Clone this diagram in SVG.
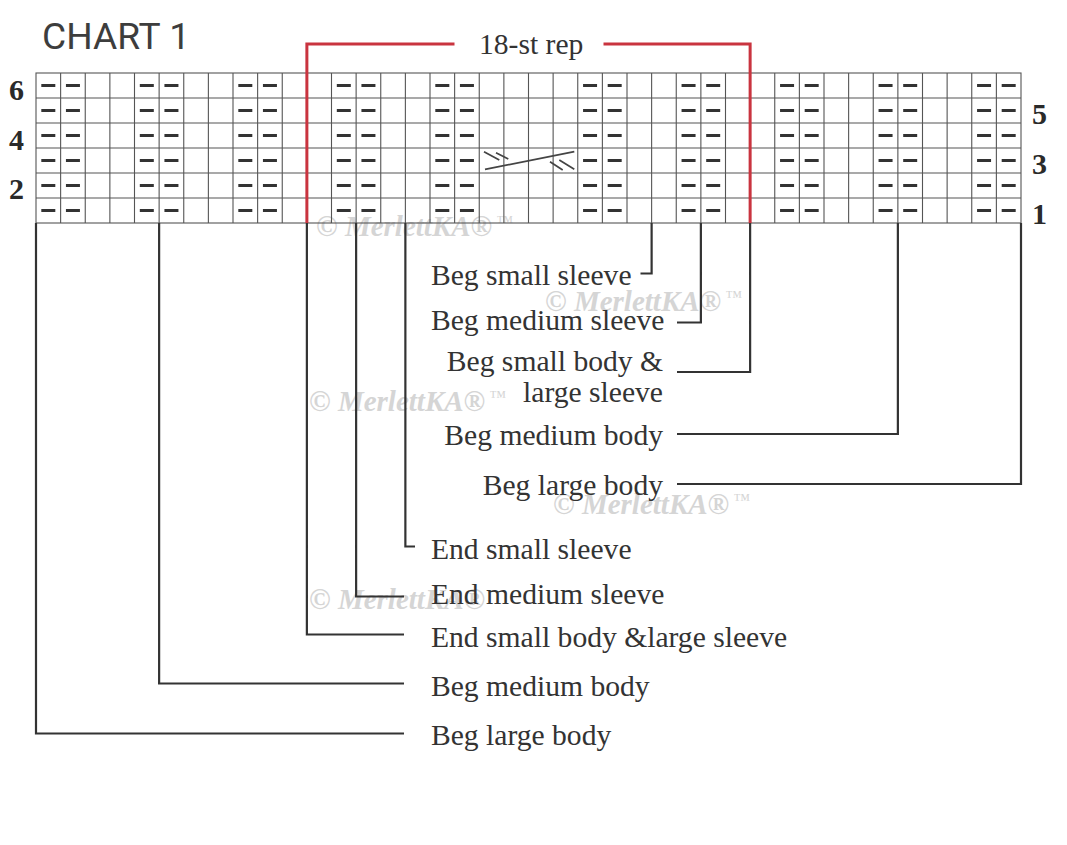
<svg xmlns="http://www.w3.org/2000/svg" width="1067" height="845" viewBox="0 0 1067 845">
<style>
.wm{font-family:"Liberation Serif",serif;font-weight:bold;font-size:29px;fill:#d5d5d5}
.wm .it{font-style:italic}
.wm .tm{font-size:17px;font-weight:normal}
.grid{stroke:#555;stroke-width:1.1;fill:none}
.purl{stroke:#333;stroke-width:14;stroke-dasharray:2.8 22.2;fill:none}
.conn{stroke:#333;stroke-width:2.2;fill:none}
.red{stroke:#c9343f;stroke-width:3;fill:none}
.lbl{font-family:"Liberation Serif",serif;font-size:29.6px;fill:#333}
.num{font-family:"Liberation Serif",serif;font-size:30px;font-weight:bold;fill:#2a2a2a}
.title{font-family:Roboto,"Liberation Sans",sans-serif;font-size:37px;fill:#3d3d3d}
</style>
<rect width="1067" height="845" fill="#fff"/>
<g id="watermarks">
<text class="wm" x="316" y="236">© <tspan class="it">MerlettKA</tspan>®<tspan class="tm" dy="-9">  ™</tspan></text>
<text class="wm" x="545" y="311">© <tspan class="it">MerlettKA</tspan>®<tspan class="tm" dy="-9">  ™</tspan></text>
<text class="wm" x="309" y="411">© <tspan class="it">MerlettKA</tspan>®<tspan class="tm" dy="-9">  ™</tspan></text>
<text class="wm" x="553" y="514">© <tspan class="it">MerlettKA</tspan>®<tspan class="tm" dy="-9">  ™</tspan></text>
<text class="wm" x="309" y="609">© <tspan class="it">MerlettKA</tspan>®</text>
</g>
<g id="title"><text class="title" x="42" y="48.5" textLength="148" lengthAdjust="spacingAndGlyphs">CHART 1</text></g>
<g id="chart">
<rect class="grid" x="36" y="73" width="985" height="150"/>
<path class="grid" d="M36 98H1021M36 123H1021M36 148H1021M36 173H1021M36 198H1021
M60.625 73V223M85.25 73V223M109.875 73V223M134.5 73V223M159.125 73V223M183.75 73V223M208.375 73V223M233 73V223M257.625 73V223M282.25 73V223
M306.875 73V223M331.5 73V223M356.125 73V223M380.75 73V223M405.375 73V223M430 73V223M454.625 73V223M479.25 73V223M503.875 73V223M528.5 73V223
M553.125 73V223M577.75 73V223M602.375 73V223M627 73V223M651.625 73V223M676.25 73V223M700.875 73V223M725.5 73V223M750.125 73V223M774.75 73V223
M799.375 73V223M824 73V223M848.625 73V223M873.25 73V223M897.875 73V223M922.5 73V223M947.125 73V223M971.75 73V223M996.375 73V223"/>
<path class="purl" d="M48.31 84.1V223M72.94 84.1V223M146.81 84.1V223M171.44 84.1V223M245.31 84.1V223M269.94 84.1V223M343.81 84.1V223M368.44 84.1V223
M442.31 84.1V223M466.94 84.1V223M590.06 84.1V223M614.69 84.1V223M688.56 84.1V223M713.19 84.1V223M787.06 84.1V223M811.69 84.1V223
M885.56 84.1V223M910.19 84.1V223M984.06 84.1V223M1008.69 84.1V223"/>
<path d="M485 169.3L574.3 151.7M484 151.7L499.3 160M496 152.7L508.3 159M550 161.7L562.7 170M559.3 160L574.3 169.3" stroke="#444" stroke-width="1.7" fill="none"/>
</g>
<g id="row-numbers">
<text class="num" x="9" y="100">6</text>
<text class="num" x="9" y="150">4</text>
<text class="num" x="9" y="199">2</text>
<text class="num" x="1032" y="124">5</text>
<text class="num" x="1032" y="174">3</text>
<text class="num" x="1032" y="224">1</text>
</g>
<g id="connectors">
<path class="red" d="M306.875 223V44H454.5M603.5 44H750.125V223"/>
<path class="conn" d="M36 223V733.5H404M159.125 223V683.5H404M306.875 223V634.5H404M356.125 223V596.5H404M405.375 223V546.5H415
M651.625 223V273.5H640.5M700.875 223V322.5H677M750.125 223V372H677M897.875 223V434H677M1021 223V484H677"/>
</g>
<g id="rep-label"><text class="lbl" x="479" y="53.5">18-st rep</text></g>
<g id="labels-upper">
<text class="lbl" x="431" y="285">Beg small sleeve</text>
<text class="lbl" x="431" y="330">Beg medium sleeve</text>
<text class="lbl" x="663" y="371" text-anchor="end">Beg small body &amp;</text>
<text class="lbl" x="663" y="402" text-anchor="end">large sleeve</text>
<text class="lbl" x="663" y="445" text-anchor="end">Beg medium body</text>
<text class="lbl" x="663" y="495" text-anchor="end">Beg large body</text>
</g>
<g id="labels-lower">
<text class="lbl" x="431" y="559">End small sleeve</text>
<text class="lbl" x="431" y="603.5">End medium sleeve</text>
<text class="lbl" x="431" y="646.5">End small body &amp;large sleeve</text>
<text class="lbl" x="431" y="696">Beg medium body</text>
<text class="lbl" x="431" y="745">Beg large body</text>
</g>
</svg>
